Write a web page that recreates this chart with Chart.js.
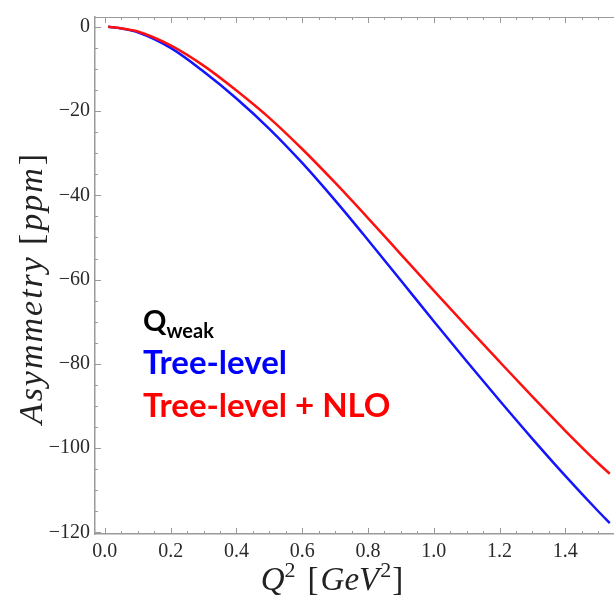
<!DOCTYPE html>
<html>
<head>
<meta charset="utf-8">
<script src="https://cdn.jsdelivr.net/npm/chart.js@4.4.0/dist/chart.umd.min.js"></script>
<style>
  html, body { margin: 0; padding: 0; background: #fff; }
  #wrap { position: relative; width: 614px; height: 602px; }
</style>
</head>
<body>
<div id="wrap"><canvas id="chart"></canvas></div>
<script>
// Q^2 values [GeV^2]
const q2 = [0.01, 0.05, 0.1, 0.2, 0.3, 0.4, 0.5, 0.6, 0.7, 0.8, 0.9, 1.0, 1.1, 1.2, 1.3, 1.4, 1.5, 1.535];
// asymmetry [ppm]
const treeLevel = [0, -0.4, -1.3, -5.0, -10.6, -17.0, -24.2, -32.3, -41.2, -50.6, -60.2, -69.9, -79.4, -88.7, -97.8, -106.6, -115.0, -117.8];
const treeLevelNLO = [0, -0.35, -1.1, -4.4, -9.2, -15.1, -21.6, -29.0, -37.0, -45.4, -54.0, -62.6, -71.1, -79.5, -87.8, -95.9, -103.6, -106.1];

const xTickValues = [0, 0.2, 0.4, 0.6, 0.8, 1.0, 1.2, 1.4];
const yTickValues = [0, -20, -40, -60, -80, -100, -120];

const axisGray = '#9a9a9a';
const labelGray = '#2a2a2a';

// minor tick positions (every 0.05 on x, every 5 on y)
const xMinor = [];
for (let i = 1; i <= 30; i++) xMinor.push(i * 0.05);
const yMinor = [];
for (let i = 1; i <= 24; i++) yMinor.push(-5 * i);

function toPoints(xs, ys) {
    return xs.map((x, i) => ({ x: x, y: ys[i] }));
}

// draws text made of pieces (for superscripts)
function drawPieces(ctx, pieces, x, y) {
    let cx = x;
    pieces.forEach(p => {
        ctx.font = p.font;
        ctx.fillText(p.text, cx, y + (p.dy || 0));
        cx += ctx.measureText(p.text).width + (p.gap || 0);
    });
}

function piecesWidth(ctx, pieces) {
    let w = 0;
    pieces.forEach(p => {
        ctx.font = p.font;
        w += ctx.measureText(p.text).width + (p.gap || 0);
    });
    return w;
}

const frameTicks = {
    id: 'frameTicks',
    afterDraw(chart) {
        const { ctx, chartArea: a, scales: { x, y } } = chart;
        ctx.save();
        ctx.strokeStyle = axisGray;
        ctx.lineWidth = 1;

        // top frame line
        ctx.beginPath();
        ctx.moveTo(a.left, a.top + 0.5);
        ctx.lineTo(a.right, a.top + 0.5);
        ctx.stroke();

        // inward ticks, bottom and top
        ctx.beginPath();
        xMinor.concat(xTickValues).forEach(v => {
            const px = Math.round(x.getPixelForValue(v)) + 0.5;
            const major = xTickValues.some(t => Math.abs(t - v) < 1e-6);
            const len = major ? 6 : 3;
            ctx.moveTo(px, a.bottom);
            ctx.lineTo(px, a.bottom - len);
            ctx.moveTo(px, a.top);
            ctx.lineTo(px, a.top + len);
        });
        // inward ticks, left
        yMinor.concat(yTickValues).forEach(v => {
            const py = Math.round(y.getPixelForValue(v)) + 0.5;
            const major = yTickValues.includes(v);
            const len = major ? 6 : 3;
            ctx.moveTo(a.left, py);
            ctx.lineTo(a.left + len, py);
        });
        ctx.stroke();

        // axis titles
        ctx.fillStyle = '#222';
        ctx.textBaseline = 'alphabetic';
        ctx.textAlign = 'left';
        const serif = '"Liberation Serif", "DejaVu Serif", serif';
        const xt = [
            { text: 'Q', font: 'italic 33px ' + serif },
            { text: '2', font: '22px ' + serif, dy: -13, gap: 12 },
            { text: '[', font: '33px ' + serif, gap: 2 },
            { text: 'GeV', font: 'italic 33px ' + serif, gap: 1 },
            { text: '2', font: '22px ' + serif, dy: -13, gap: 1 },
            { text: ']', font: '33px ' + serif }
        ];
        const xw = piecesWidth(ctx, xt);
        drawPieces(ctx, xt, 332 - xw / 2, 590);

        ctx.save();
        ctx.translate(42, 288);
        ctx.rotate(-Math.PI / 2);
        ctx.letterSpacing = '2px';
        const yt = [
            { text: 'Asymmetry', font: 'italic 34px ' + serif, gap: 10 },
            { text: '[', font: '34px ' + serif, gap: 1 },
            { text: 'ppm', font: 'italic 34px ' + serif, gap: 1 },
            { text: ']', font: '34px ' + serif }
        ];
        const yw = piecesWidth(ctx, yt);
        drawPieces(ctx, yt, -yw / 2, 0);
        ctx.restore();

        // legend text
        const sans = 'Lato, "Open Sans", sans-serif';
        ctx.fillStyle = '#000';
        ctx.font = 'bold 29px ' + sans;
        ctx.fillText('Q', 143, 331);
        const qw = ctx.measureText('Q').width;
        ctx.font = 'bold 20px ' + sans;
        ctx.fillText('weak', 143 + qw, 338);
        ctx.font = 'bold 33px ' + sans;
        ctx.fillStyle = '#0000ff';
        ctx.fillText('Tree-level', 143, 374);
        ctx.fillStyle = '#ff0000';
        ctx.fillText('Tree-level + NLO', 143, 417);

        ctx.restore();
    }
};

const serifFont = { family: '"Liberation Serif", "DejaVu Serif", serif', size: 20 };

new Chart(document.getElementById('chart'), {
    type: 'line',
    data: {
        datasets: [
            {
                label: 'Tree-level + NLO',
                data: toPoints(q2, treeLevelNLO),
                borderColor: '#ff1010',
                borderWidth: 2.5,
                pointRadius: 0,
                cubicInterpolationMode: 'monotone'
            },
            {
                label: 'Tree-level',
                data: toPoints(q2, treeLevel),
                borderColor: '#1414ff',
                borderWidth: 2.5,
                pointRadius: 0,
                cubicInterpolationMode: 'monotone'
            }
        ]
    },
    options: {
        responsive: true,
        maintainAspectRatio: false,
        animation: false,
        layout: { padding: { top: 10, right: 0, left: 0, bottom: 0 } },
        plugins: {
            legend: { display: false },
            tooltip: { enabled: false }
        },
        scales: {
            x: {
                type: 'linear',
                min: -0.03,
                max: 1.548,
                afterBuildTicks: scale => { scale.ticks = xTickValues.map(v => ({ value: v })); },
                afterFit: scale => { scale.height = 68; },
                grid: { display: false, drawTicks: false },
                border: { display: true, color: axisGray, width: 1.5 },
                ticks: {
                    padding: 6,
                    color: labelGray,
                    font: serifFont,
                    maxRotation: 0,
                    callback: v => Number(v).toFixed(1)
                }
            },
            y: {
                type: 'linear',
                min: -120.4,
                max: 2.34,
                afterBuildTicks: scale => { scale.ticks = yTickValues.map(v => ({ value: v })); },
                afterFit: scale => { scale.width = 95; },
                grid: { display: false, drawTicks: false },
                border: { display: true, color: axisGray, width: 1.5 },
                ticks: {
                    padding: 5,
                    color: labelGray,
                    font: serifFont,
                    callback: v => (v < 0 ? '\u2212' + Math.abs(v) : String(v))
                }
            }
        }
    },
    plugins: [frameTicks]
});
</script>
</body>
</html>
